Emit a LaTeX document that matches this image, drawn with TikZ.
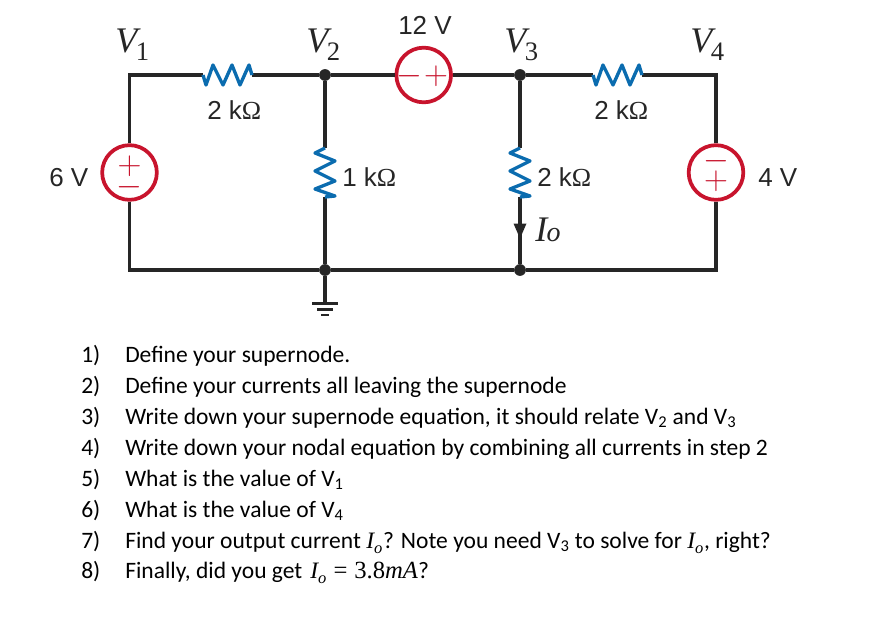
\documentclass[tikz,border=0pt]{standalone}
\usepackage{fontspec}
\setmainfont{Carlito}
\newfontfamily\helv{Liberation Sans}
\newfontfamily\tms{Liberation Serif}
\usetikzlibrary{calc}
\definecolor{wirec}{HTML}{262626}
\definecolor{srcred}{HTML}{C8142D}
\definecolor{resblue}{HTML}{0B6CAF}
\newcommand{\volt}[2]{{\tms\fontsize{27}{27}\selectfont\itshape #1\kern-1pt\raisebox{-6pt}{\fontsize{20}{20}\selectfont\upshape #2}}}
\newcommand{\hzig}[1]{(#1) -- ++(3,10) -- ++(7,-20) -- ++(10,20) -- ++(9,-20) -- ++(8,20) -- ++(9,-20) -- ++(3,10)}
\newcommand{\vzig}[1]{(#1) -- ++(-10,5) -- ++(20,8) -- ++(-20,10) -- ++(20,10) -- ++(-20,8) -- ++(20,7) -- ++(-10,1)}
\newcommand{\sgn}[3]{\kern#1\makebox[0pt]{\raisebox{#2}[0pt][0pt]{$#3$}}\kern-#1}
\newcommand{\isub}[2]{{\tms\itshape #1\textsubscript{\raisebox{-0.15em}{#2}}}}
\tikzset{
  x=0.75pt, y=-0.75pt,
  wire/.style={draw=wirec, line width=2.5pt},
  res/.style={draw=resblue, line width=2.5pt, line join=round},
  source/.style={circle, draw=srcred, line width=2.8pt, fill=white, minimum size=41pt, inner sep=0pt, text=srcred, font=\fontsize{27}{27}\selectfont},
  junction/.style={circle, fill=wirec, minimum size=8.8pt, inner sep=0pt},
  lab/.style={anchor=base west, inner sep=0pt, text=wirec, font=\helv\fontsize{19.5}{19.5}\selectfont},
  nodev/.style={anchor=base west, inner sep=0pt, text=wirec},
  item/.style={anchor=base west, inner sep=0pt, text=black, font=\fontsize{17.65}{17.65}\selectfont},
}
\begin{document}
\begin{tikzpicture}
\useasboundingbox (0,0) rectangle (886,628);
\fill[white] (0,0) rectangle (886,628);
% corners and junctions
\coordinate (tl) at (129.5,75);
\coordinate (bl) at (129.5,270);
\coordinate (tr) at (716,75);
\coordinate (br) at (716,270);
\node[junction] (j2) at (325,75) {};
\node[junction] (j3) at (520,75) {};
\node[junction] (g2) at (325,270) {};
\node[junction] (g3) at (520,270) {};
% sources
\node[source] (s6) at (129.5,172.5) {\sgn{0pt}{-1.65pt}{+}\sgn{0pt}{-16.9pt}{-}};
\node[source] (s12) at (423.7,75) {\sgn{-10.7pt}{-6.75pt}{-}\sgn{9.2pt}{-6.75pt}{+}};
\node[source] (s4) at (716,172.5) {\sgn{0pt}{2.6pt}{-}\sgn{0pt}{-13.1pt}{+}};
% resistor ends
\coordinate (r1a) at (203,75); \coordinate (r1b) at (252,75);
\coordinate (r4a) at (593,75); \coordinate (r4b) at (642,75);
\coordinate (r2a) at (325,148); \coordinate (r2b) at (325,197);
\coordinate (r3a) at (520,148); \coordinate (r3b) at (520,197);
\coordinate (gnd) at (325,303);
% wires
\draw[wire, line join=miter] (s6) -- (tl) -- (r1a);
\draw[wire] (r1b) -- (j2);
\draw[wire] (j2) -- (s12);
\draw[wire] (s12) -- (j3);
\draw[wire] (j3) -- (r4a);
\draw[wire, line join=miter] (r4b) -- (tr) -- (s4);
\draw[wire, line join=miter] (s6) -- (bl) -- (g2);
\draw[wire] (g2) -- (g3);
\draw[wire, line join=miter] (g3) -- (br) -- (s4);
\draw[wire] (j2) -- (r2a);
\draw[wire] (r2b) -- (g2);
\draw[wire] (j3) -- (r3a);
\draw[wire] (r3b) -- (g3);
\draw[wire] (g2) -- (gnd);
% resistors
\draw[res] \hzig{r1a};
\draw[res] \hzig{r4a};
\draw[res] \vzig{r2a};
\draw[res] \vzig{r3a};
% arrow
\fill[wirec] (513.5,223.5) -- (526.5,223.5) -- (520,238.5) -- cycle;
% ground
\draw[wirec, line width=2.4pt] (312,303.5) -- (338,303.5);
\draw[wirec, line width=2.2pt] (317,309.5) -- (333,309.5);
\draw[wirec, line width=2.2pt] (321,315) -- (329,315);
% labels
\node[lab] (l1) at (207,119) {2 k\tms Ω};
\node[lab] (l2) at (594,119) {2 k\tms Ω};
\node[lab] (l3) at (342,186) {1 k\tms Ω};
\node[lab] (l4) at (537,186) {2 k\tms Ω};
\node[lab] (l5) at (49,186) {6 V};
\node[lab] (l6) at (758,186) {4 V};
\node[lab] (l7) at (398,34) {12 V};
\node[nodev] (v1) at (115,52) {\volt{V}{1}};
\node[nodev] (v2) at (306,52) {\volt{V}{2}};
\node[nodev] (v3) at (504,52) {\volt{V}{3}};
\node[nodev] (v4) at (690,52) {\volt{V}{4}};
\node[nodev] (io) at (535,241) {\tms\fontsize{27}{27}\selectfont\itshape I\kern-0.5pt\fontsize{21}{21}\selectfont o};
% list
\node[item] (n1) at (81,362) {1)};
\node[item] (n2) at (81,393) {2)};
\node[item] (n3) at (81,424) {3)};
\node[item] (n4) at (81,455) {4)};
\node[item] (n5) at (81,486) {5)};
\node[item] (n6) at (81,517) {6)};
\node[item] (n7) at (81,548) {7)};
\node[item] (n8) at (81,578) {8)};
\node[item] (t1) at (125,362) {Define your supernode.};
\node[item] (t2) at (125,393) {Define your currents all leaving the supernode};
\node[item] (t3) at (125,424) {Write down your supernode equation, it should relate V\textsubscript{2} and V\textsubscript{3}};
\node[item] (t4) at (125,455) {Write down your nodal equation by combining all currents in step 2};
\node[item] (t5) at (125,486) {What is the value of V\textsubscript{1}};
\node[item] (t6) at (125,517) {What is the value of V\textsubscript{4}};
\node[item] (t7) at (125,548) {Find your output current \isub{I}{o}? Note you need V\textsubscript{3} to solve for \isub{I}{o}, right?};
\node[item] (t8) at (125,578) {Finally, did you get\kern2pt\ \isub{I}{o}\kern5pt{\tms\fontsize{18.5}{18.5}\selectfont =\kern5pt 3.8\itshape mA}?};
\end{tikzpicture}
\end{document}
